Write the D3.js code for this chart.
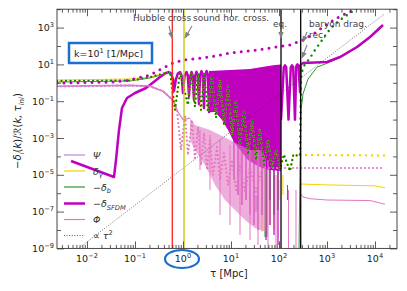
<!DOCTYPE html>
<html><head><meta charset="utf-8">
<script src="https://cdn.jsdelivr.net/npm/d3@7"></script>
<style>body{margin:0;background:#fff}svg{display:block;font-family:"DejaVu Sans",sans-serif}</style>
</head><body><svg id="c" width="407" height="291"></svg>
<script>
// ---------- DATA (log10 tau [Mpc], log10 value) ----------
const xTickExps = [-2,-1,0,1,2,3,4];
const yTickExps = [-9,-7,-5,-3,-1,1,3];
const legendLabels = ["Ψ","δγ","−δb","−δSFDM","Φ","∝ τ²"];

const sfdmMain = [[-2.333,-4.25],[-1.4375,-5.12],[-1.396,-4.196],[-1.333,-2.565],[-1.271,-1.37],[-1.167,-0.826],[-1.0,-0.554],[-0.771,-0.283],[-0.583,0.098],[-0.479,0.315],[-0.354,0.533],[-0.3,0.58],[-0.25,0.5],[-0.208,0.2],[-0.1875,-0.45],
 [-0.146,0.2],[-0.104,0.52],[-0.0625,0.58],[-0.03,0.4],[0,-0.554],
 [0.03,0.35],[0.073,0.587],[0.1,0.4],[0.125,-0.717],
 [0.15,0.35],[0.177,0.587],[0.2,0.4],[0.229,-0.935],
 [0.25,0.35],[0.281,0.6],[0.305,0.4],[0.333,-1.152],
 [0.355,0.4],[0.385,0.63],[0.41,0.45],[0.4375,-1.37],
 [0.46,0.4],[0.49,0.64],[0.515,0.45],[0.542,-1.587],[0.56,0.5]];
const sfdmTop = [[0.54,0.64],[0.979,0.696],[1.396,0.75],[1.646,0.859],[1.917,0.967],[2.042,1.0]];
const sfdmBot = [[0.54,-1.6],[0.667,-1.587],[0.8125,-2.022],[0.9375,-2.565],[1.0625,-3.217],[1.1875,-3.652],[1.354,-4.196],[1.521,-4.467],[1.646,-4.63],[1.8125,-4.739],[2.042,-4.8]];
const sfdmLobes = [[2.042,-2.0],[2.1,0.85],[2.125,0.95],[2.15,0.85],[2.198,-2.0],[2.246,0.85],[2.271,0.95],[2.296,0.85],[2.333,-2.0],[2.36,0.9],[2.385,1.0],[2.41,0.9],[2.4375,-0.5],[2.45,1.0]];
const sfdmSpikes = [[1.0625,-3,-5.283],[1.146,-3,-6.098],[1.229,-3,-6.641],[1.3125,-3,-6.37],[1.396,-3,-7.185],[1.479,-3,-7.728],[1.5625,-3,-8.0],[1.646,-3,-7.185],[1.729,-3,-8.543],[1.8125,-3,-7.728],[1.896,-3,-8.272],[1.979,-3,-8.815]];
const sfdmLate = [[2.45,1.0],[2.5,1.076],[3.0,1.13],[3.271,1.402],[3.625,1.946],[3.896,2.489],[4.167,3.141]];
const sfdmDotted = [[-2.625,-0.011],[-1.417,0.043],[-1.104,0.152],[-0.6875,0.424],[-0.417,0.804],[-0.208,1.076],[0,1.239],[0.5625,1.402],[0.979,1.62],[1.542,1.783],[1.8125,1.891],[2.229,2.054],[2.5,2.326],[2.75,2.707],[2.917,3.033],[3.208,3.522],[3.417,3.793],[3.625,4.011]];

const gammaEarly = [[-2.625,0.152],[-1.104,0.207],[-0.6875,0.315],[-0.417,0.478],[-0.271,0.6],[-0.2,0.5]];
const gammaSpikes = [[1.646,-4.467,-8.11],[1.729,-4.739,-8.27],[1.8125,-4.467,-7.728],[1.896,-5.011,-8.0],[2.0,-5.283,-6.37],[2.083,-5.011,-6.1]];
const gammaLate = [[2.4375,-5.5],[3.0,-5.55],[4.0,-5.6],[4.208,-5.7]];
const baryonEarly = [[-2.625,0.043],[-1.104,0.098],[-0.6875,0.26],[-0.417,0.45],[-0.271,0.58],[-0.2,0.5]];
const baryonSpikes = [[1.521,-2.565,-4.467],[1.583,-2.837,-4.196],[1.646,-2.46,-4.739],[1.708,-3.109,-8.38],[1.75,-3.652,-8.38],[1.8125,-3.652,-6.37],[1.896,-4.196,-7.185],[1.979,-4.739,-6.913],[2.177,-5.554,-6.37]];
const baryonLate = [[2.417,-9.1],[2.44,-4.0],[2.458,-1.5],[2.5,-0.6],[2.604,0.2],[2.792,0.85],[3.0,1.06],[3.333,1.45],[3.625,1.9],[3.896,2.45],[4.167,3.1]];
const pbDotted = [[-2.625,0.1],[-1.104,0.12],[-0.6875,0.3],[-0.417,0.5],[-0.271,0.6],
 [-0.167,-1.478],[-0.0625,0.533],[0.104,-1.2],[0.17,0.533],[0.25,-1.3],[0.31,0.533],[0.375,-1.478],[0.44,0.478],[0.521,-1.587],[0.6,0.37],[0.6875,-1.9],[0.77,0.15],[0.854,-2.3],[0.94,-0.2],[1.021,-2.83],[1.1,-0.94],[1.1875,-3.38],[1.27,-1.48],[1.354,-3.92],[1.44,-2.0],[1.521,-4.2],[1.6,-2.56],[1.6875,-4.47],[1.77,-3.1],[1.854,-4.6],[1.94,-3.65],[2.021,-4.7],[2.1,-3.9],[2.229,-4.8],[2.3,-3.9],[2.4375,-4.0]];
const gammaDottedLate = [[2.4375,-3.92],[4.208,-3.95]];
const baryonDottedLate = [[2.4375,-3.9],[2.46,0.3],[2.5,0.859],[2.646,1.348],[2.75,1.783],[2.854,2.163],[3.0,2.707],[3.104,3.033],[3.271,3.413],[3.479,3.793],[3.625,4.05]];

const phiEarly = [[-2.625,-0.174],[-1.104,-0.12],[-0.6875,-0.17],[-0.417,-0.446],[-0.208,-0.935],[-0.104,-1.587],[0.0,-2.0],[0.146,-1.92]];
const phiTop = [[0.146,-1.92],[0.25,-2.29],[0.5625,-2.565],[0.979,-3.109],[1.396,-3.652],[1.646,-3.652],[1.729,-4.196]];
const phiBot = [[0.146,-3.109],[0.25,-3.652],[0.458,-4.467],[0.667,-5.554],[0.875,-6.37],[1.083,-6.913],[1.292,-7.457],[1.5,-7.891],[1.729,-8.11]];
const phiSpikes = [[0.354,-2.565,-4.739],[0.5625,-2.837,-5.826],[0.771,-3.109,-7.185],[0.979,-3.38,-7.728],[1.1875,-3.652,-8.272],[1.396,-3.652,-8.543],[1.5625,-3.652,-8.815],[1.771,-4.196,-9.1],[1.9375,-5.011,-9.1],[2.198,-5.826,-9.1],[2.354,-5.826,-9.1]];
const phiLate = [[2.4375,-6.0],[2.5,-6.2],[2.646,-6.3],[3.0,-6.37],[3.9,-6.4],[4.208,-6.6]];
const phiDotted = [[-2.625,-0.2],[-1.104,-0.15],[-0.6875,-0.2],[-0.417,-0.45],[-0.208,-0.95],
 [-0.125,-1.478],[-0.042,-3.652],[0.042,-1.75],[0.104,-3.924],[0.1875,-2.022],[0.25,-4.196],[0.3125,-2.402],[0.375,-4.467],[0.4375,-2.728],[0.5,-4.739],[0.5625,-3.109],[0.625,-5.011],[0.708,-3.489],[0.771,-5.283],[0.854,-3.815],[0.9375,-5.554],[1.021,-4.196],[1.104,-5.826],[1.1875,-4.467],[1.292,-5.935],[1.396,-4.576],[1.521,-5.935],[1.646,-4.63],[2.4375,-4.63],[4.208,-4.63]];
const psiEarly = [[-2.625,-0.2],[-1.104,-0.15],[-0.6875,-0.2],[-0.417,-0.47],[-0.208,-0.96]];
const psiSpikes = [[1.521,-6.098,-7.022],[1.55,-6.2,-6.9]];
const tauSq = [[-2.2,-9.05],[4.2,3.75]];

const vlines = [[-0.223,"#ff2020"],[0.021,"#c8c400"],[2.042,"#000"],[2.452,"#000"]];

// ---------- CHART ----------
const svg = d3.select("#c");
const L=57,R=397,T=9.2,B=248.4;
const x = d3.scaleLog().domain([10**-2.625,10**4.4583]).range([L,R]);
const y = d3.scaleLog().domain([1e-9,1e4]).range([B,T]);
const P = d=>[x(10**d[0]), y(10**d[1])];
const line = d3.line().x(d=>P(d)[0]).y(d=>P(d)[1]);
const area = (top,bot)=>{ const pts = top.map(P).concat(bot.slice().reverse().map(P)); return "M"+pts.map(p=>p.join(",")).join("L")+"Z"; };

const defs = svg.append("defs");
defs.append("clipPath").attr("id","clip").append("rect").attr("x",L).attr("y",T).attr("width",R-L).attr("height",B-T);
defs.append("marker").attr("id","arr").attr("viewBox","0 0 10 10").attr("refX",9).attr("refY",5)
 .attr("markerWidth",6).attr("markerHeight",6).attr("orient","auto")
 .append("path").attr("d","M0,1L10,5L0,9Z").attr("fill","#808080");

const g = svg.append("g").attr("clip-path","url(#clip)");
const PINK="#e377c2", MAG="#bf00bf", GRN="#2a9a2a", DGRN="#008000", YEL="#f2d400", LIL="#b58fd8";
const path=(data,col,w)=>g.append("path").attr("d",line(data)).attr("fill","none").attr("stroke",col).attr("stroke-width",w).attr("stroke-linejoin","round");
const spikes=(data,col,w)=>data.forEach(s=>g.append("line").attr("x1",x(10**s[0])).attr("x2",x(10**s[0])).attr("y1",y(10**s[1])).attr("y2",y(10**s[2])).attr("stroke",col).attr("stroke-width",w));

// Psi
path(psiEarly,LIL,1.2); spikes(psiSpikes,"#9a6fd0",1);
// delta gamma & baryon solid
path(gammaEarly,YEL,1); spikes(gammaSpikes,YEL,1); path(gammaLate,YEL,1);
path(baryonEarly,GRN,1); spikes(baryonSpikes,GRN,1); path(baryonLate,GRN,1);
// SFDM
g.append("path").attr("d",area(sfdmTop,sfdmBot)).attr("fill",MAG);
spikes(sfdmSpikes,MAG,1.2);
path(sfdmMain,MAG,2.5); path(sfdmLobes,MAG,2.5); path(sfdmLate,MAG,2.5);
// Phi
g.append("path").attr("d",area(phiTop,phiBot)).attr("fill",PINK).attr("opacity",0.6);
spikes(phiSpikes,PINK,1);
path(phiEarly,PINK,1.2); path(phiLate,PINK,1);
// tau^2
g.append("path").attr("d",line(tauSq)).attr("fill","none").attr("stroke","#333").attr("stroke-width",0.7).attr("stroke-dasharray","1,1.6");
// dotted (comparison)
const dotted=(data,col,w,gap)=>g.append("path").attr("d",line(data)).attr("fill","none").attr("stroke",col).attr("stroke-width",w).attr("stroke-linecap","round").attr("stroke-dasharray","0,"+gap);
dotted(phiDotted,PINK,2.2,4);
dotted(pbDotted,YEL,2.4,4.5);
dotted(pbDotted,DGRN,2.2,4.5);
dotted(gammaDottedLate,YEL,2.4,6);
dotted(baryonDottedLate,DGRN,2.4,6);
dotted(sfdmDotted,MAG,3,7);

// vertical lines
vlines.forEach(v=>g.append("line").attr("x1",x(10**v[0])).attr("x2",x(10**v[0])).attr("y1",T).attr("y2",B).attr("stroke",v[1]).attr("stroke-width",1.3));

// axes
const minors = [];
d3.range(-3,5).forEach(d=>{for(let m=2;m<10;m++){const v=m*10**d; if(v>x.domain()[0]&&v<x.domain()[1]) minors.push(v);}});
const xMaj = xTickExps.map(e=>10**e);
const ax = svg.append("g").attr("color","#333");
ax.append("g").attr("transform",`translate(0,${B})`).call(d3.axisBottom(x).tickValues(xMaj).tickSize(-7).tickFormat(""));
ax.append("g").attr("transform",`translate(0,${B})`).call(d3.axisBottom(x).tickValues(minors).tickSize(-3.5).tickFormat(""));
ax.append("g").attr("transform",`translate(0,${T})`).call(d3.axisTop(x).tickValues(xMaj).tickSize(-7).tickFormat(""));
ax.append("g").attr("transform",`translate(0,${T})`).call(d3.axisTop(x).tickValues(minors).tickSize(-3.5).tickFormat(""));
const yMaj = yTickExps.map(e=>10**e);
const yMin = d3.range(-8,5,2).map(e=>10**e);
ax.append("g").attr("transform",`translate(${L},0)`).call(d3.axisLeft(y).tickValues(yMaj).tickSize(-7).tickFormat(""));
ax.append("g").attr("transform",`translate(${L},0)`).call(d3.axisLeft(y).tickValues(yMin).tickSize(-4).tickFormat(""));
ax.append("g").attr("transform",`translate(${R},0)`).call(d3.axisRight(y).tickValues(yMaj).tickSize(-7).tickFormat(""));
ax.append("g").attr("transform",`translate(${R},0)`).call(d3.axisRight(y).tickValues(yMin).tickSize(-4).tickFormat(""));
ax.selectAll(".domain").remove();
ax.selectAll(".tick line").attr("stroke-width",0.8);
svg.append("rect").attr("x",L).attr("y",T).attr("width",R-L).attr("height",B-T).attr("fill","none").attr("stroke","#333").attr("stroke-width",0.9);

function rich(sel, parts, size){
  let shift=0;
  parts.forEach(p=>{
    const target = p.sup? -0.42*size : p.sub? 0.3*size : 0;
    const ts = sel.append("tspan").attr("dy",target-shift).text(p.t);
    if(p.sup||p.sub) ts.attr("font-size",size*0.7);
    if(p.it) ts.attr("font-style","italic");
    shift=target;
  });
}
const exLbl = e=>[{t:"10"},{t:(e<0?"−":"")+Math.abs(e),sup:true}];
xTickExps.forEach(e=>{
  const t=svg.append("text").attr("x",x(10**e)).attr("y",262).attr("text-anchor","middle").attr("font-size",9.5).attr("fill","#222");
  rich(t,exLbl(e),9.5);
});
yTickExps.forEach(e=>{
  const t=svg.append("text").attr("x",54).attr("y",y(10**e)+3.5).attr("text-anchor","end").attr("font-size",9.5).attr("fill","#222");
  rich(t,exLbl(e),9.5);
});
// axis titles
const xt=svg.append("text").attr("x",229).attr("y",277).attr("text-anchor","middle").attr("font-size",10).attr("fill","#222");
rich(xt,[{t:"τ [Mpc]"}],10);
const yt=svg.append("text").attr("transform","translate(21,131) rotate(-90)").attr("text-anchor","middle").attr("font-size",10).attr("fill","#222");
rich(yt,[{t:"−"},{t:"δ",it:true},{t:"i",sub:true,it:true},{t:"(",},{t:"k",it:true},{t:")/ℛ("},{t:"k",it:true},{t:", τ",it:true},{t:"ini",sub:true,it:true},{t:")"}],10);

// legend
const legY=[155,171,187,203.5,219.5,235.5];
const legStyle=[[LIL,1.2,null],[YEL,1.2,null],[GRN,1.2,null],[MAG,2.5,null],[PINK,1.2,null],["#333",0.8,"1,1.6"]];
const legParts=[[{t:"Ψ",it:true}],[{t:"δ",it:true},{t:"γ",sub:true,it:true}],[{t:"−δ",it:true},{t:"b",sub:true,it:true}],[{t:"−δ",it:true},{t:"SFDM",sub:true,it:true}],[{t:"Φ",it:true}],[{t:"∝ "},{t:"τ",it:true},{t:"2",sup:true}]];
legendLabels.forEach((lab,i)=>{
  svg.append("line").attr("x1",64).attr("x2",85).attr("y1",legY[i]).attr("y2",legY[i]).attr("stroke",legStyle[i][0]).attr("stroke-width",legStyle[i][1]).attr("stroke-dasharray",legStyle[i][2]);
  const t=svg.append("text").attr("x",93).attr("y",legY[i]+3.5).attr("font-size",9.5).attr("fill","#333").attr("data-label",lab);
  rich(t,legParts[i],9.5);
});

// annotations
const ann=(txt,xx,yy)=>svg.append("text").attr("x",xx).attr("y",yy).attr("font-size",9).attr("fill","#444").text(txt);
ann("Hubble cross",133,21);ann("sound hor. cross.",193,21);ann("eq.",273,27);ann("baryon drag.",309,26.5);ann("rec.",309,37.5);
const arrow=(x1,y1,x2,y2)=>svg.append("line").attr("x1",x1).attr("y1",y1).attr("x2",x2).attr("y2",y2).attr("stroke","#808080").attr("stroke-width",1.1).attr("marker-end","url(#arr)");
arrow(169,26,172,38);arrow(192,26,185,38);arrow(281,29,281,38);arrow(307,32,303,42);arrow(307,45,302,58);

// k box & ellipse
svg.append("rect").attr("x",69).attr("y",43).attr("width",83).attr("height",20).attr("fill","#fff").attr("stroke","#1a6fd0").attr("stroke-width",2.5);
const kt=svg.append("text").attr("x",74).attr("y",57).attr("font-size",9.5).attr("fill","#222");
rich(kt,[{t:"k=10"},{t:"1",sup:true},{t:" [1/Mpc]"}],9.5);
svg.append("ellipse").attr("cx",182).attr("cy",259).attr("rx",17).attr("ry",9).attr("fill","none").attr("stroke","#1a6fd0").attr("stroke-width",2.2);
</script></body></html>
